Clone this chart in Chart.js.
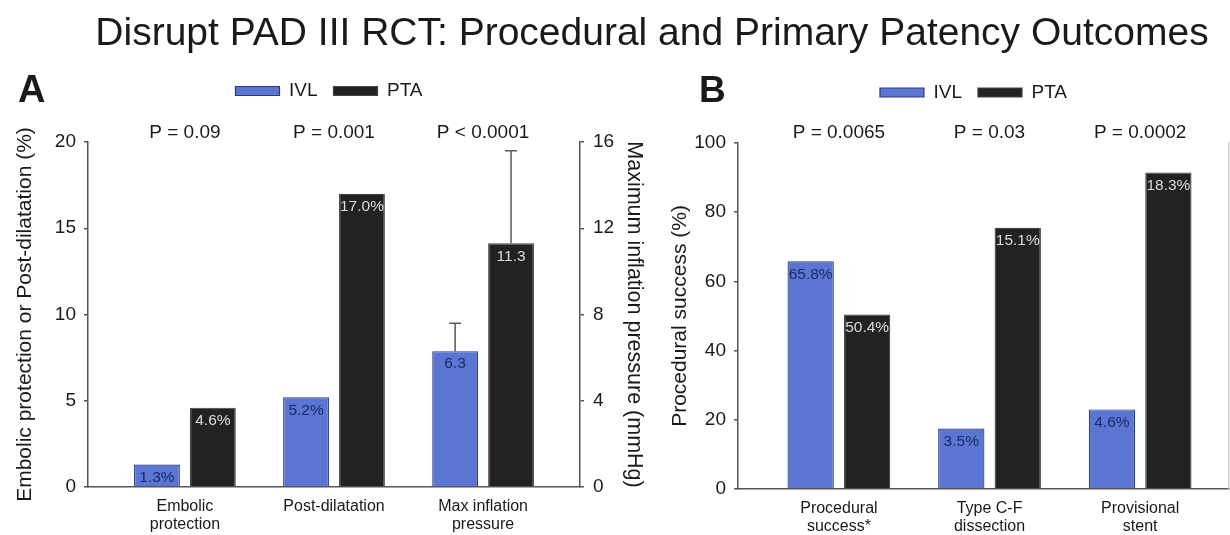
<!DOCTYPE html>
<html>
<head>
<meta charset="utf-8">
<title>Disrupt PAD III RCT</title>
<script src="https://cdn.jsdelivr.net/npm/chart.js@4.4.1/dist/chart.umd.min.js"></script>
<style>
    body { margin: 0; background: #fff; width: 1230px; height: 535px; overflow: hidden; position: relative;
        font-family: "Liberation Sans", Arial, sans-serif; color: #1a1a1a; }
    .heading { position: absolute; left: 37px; top: 13px; width: 1230px; text-align: center;
        font-size: 39px; line-height: 38px; z-index: 2; }
    .letter { position: absolute; font-weight: bold; line-height: 38px; z-index: 2; }
    canvas { position: absolute; top: 0; }
</style>
</head>
<body>
<div class="heading">Disrupt PAD III RCT: Procedural and Primary Patency Outcomes</div>
<div class="letter" style="left:18px; top:70px; font-size:38px;">A</div>
<div class="letter" style="left:699px; top:71px; font-size:37px;">B</div>
<canvas id="panelA" width="650" height="535" style="left:0"></canvas>
<canvas id="panelB" width="580" height="535" style="left:650px"></canvas>
<script>
var seriesNames = ['IVL', 'PTA'];

// panel A
var catsA = [['Embolic', 'protection'], 'Post-dilatation', ['Max inflation', 'pressure']];
var ivlPctA = [1.3, 5.2, null];
var ptaPctA = [4.6, 17.0, null];
var ivlPressA = [null, null, 6.3];
var ptaPressA = [null, null, 11.3];
var ivlPressTopA = [null, null, 7.6];
var ptaPressTopA = [null, null, 15.6];
var pValsA = ['P = 0.09', 'P = 0.001', 'P < 0.0001'];
var pctTicksA = [0, 5, 10, 15, 20];
var pressTicksA = [0, 4, 8, 12, 16];

// panel B
var catsB = [['Procedural', 'success*'], ['Type C-F', 'dissection'], ['Provisional', 'stent']];
var ivlSuccessB = [65.8, null, null];
var ptaSuccessB = [50.4, null, null];
var ivlEventB = [null, 3.5, 4.6];
var ptaEventB = [null, 15.1, 18.3];
var pValsB = ['P = 0.0065', 'P = 0.03', 'P = 0.0002'];
var successTicksB = [0, 20, 40, 60, 80, 100];

var FONT = '"Liberation Sans", Arial, sans-serif';
var IVL_FILL = '#5a76d2', IVL_EDGE = '#2b3a80', IVL_TEXT = '#1b2a66';
var PTA_FILL = '#222222', PTA_EDGE = '#444444', PTA_TEXT = '#dcdcdc';
var AXIS = '#555555';

Chart.defaults.font.family = FONT;
Chart.defaults.color = '#1a1a1a';

var barLabels = {
    id: 'barLabels',
    afterDatasetsDraw: function(chart) {
        var ctx = chart.ctx;
        ctx.save();
        ctx.font = '15.5px ' + FONT;
        ctx.textAlign = 'center';
        ctx.textBaseline = 'middle';
        chart.data.datasets.forEach(function(ds, i) {
            chart.getDatasetMeta(i).data.forEach(function(bar, j) {
                var v = ds.data[j];
                if (v === null) return;
                ctx.fillStyle = ds.labelColor;
                ctx.fillText(v.toFixed(1) + ds.labelSuffix, bar.x, bar.y + 13);
            });
        });
        ctx.restore();
    }
};

var errorBars = {
    id: 'errorBars',
    afterDatasetsDraw: function(chart) {
        var ctx = chart.ctx;
        ctx.save();
        ctx.strokeStyle = '#5a5a5a';
        ctx.lineWidth = 1.5;
        chart.data.datasets.forEach(function(ds, i) {
            if (!ds.errorTop) return;
            var scale = chart.scales[ds.yAxisID];
            chart.getDatasetMeta(i).data.forEach(function(bar, j) {
                var top = ds.errorTop[j];
                if (top === null) return;
                var y = scale.getPixelForValue(top);
                ctx.beginPath();
                ctx.moveTo(bar.x, bar.y);
                ctx.lineTo(bar.x, y);
                ctx.moveTo(bar.x - 6, y);
                ctx.lineTo(bar.x + 6, y);
                ctx.stroke();
            });
        });
        ctx.restore();
    }
};

var pLabels = {
    id: 'pLabels',
    afterDraw: function(chart, args, opts) {
        var ctx = chart.ctx, x = chart.scales.x;
        ctx.save();
        ctx.font = '19px ' + FONT;
        ctx.fillStyle = '#1a1a1a';
        ctx.textAlign = 'center';
        ctx.textBaseline = 'middle';
        opts.labels.forEach(function(t, i) {
            ctx.fillText(t, x.getPixelForValue(i), chart.chartArea.top + opts.offset);
        });
        ctx.restore();
    }
};

// room between legend and plot for the P values, and a small sideways nudge
function legendGap(extra, dx) {
    return {
        id: 'legendGap',
        beforeInit: function(chart) {
            var fit = chart.legend.fit;
            chart.legend.fit = function() {
                fit.bind(chart.legend)();
                this.height += extra;
            };
        },
        afterLayout: function(chart) {
            chart.legend.left += dx;
            chart.legend.right += dx;
        }
    };
}

function setTicks(list) {
    return function(scale) {
        scale.ticks = list.map(function(v) { return { value: v }; });
    };
}

function bars(label, data, axis, fill, edge, textColor, suffix, errTop) {
    return {
        label: label,
        data: data,
        yAxisID: axis,
        backgroundColor: fill,
        borderColor: edge,
        borderWidth: 1.2,
        skipNull: true,
        categoryPercentage: 0.75,
        barPercentage: 0.82,
        labelColor: textColor,
        labelSuffix: suffix,
        errorTop: errTop
    };
}

function yAxis(pos, min, max, ticks, width, pad, title, titleSize, titlePad) {
    return {
        position: pos, min: min, max: max,
        afterBuildTicks: setTicks(ticks),
        afterFit: function(s) { s.width = width; },
        ticks: { padding: pad, color: '#1a1a1a', font: { size: 19 } },
        grid: { drawOnChartArea: false, drawTicks: true, tickLength: 4, color: AXIS, lineWidth: 1.5 },
        border: { color: AXIS, width: 1.5 },
        title: { display: true, text: title, color: '#1a1a1a', font: { size: titleSize }, padding: { top: titlePad, bottom: 0 } }
    };
}

function xAxis(cats, min, max, height) {
    return {
        type: 'linear', min: min, max: max, offset: false,
        afterBuildTicks: setTicks(cats.map(function(c, i) { return i; })),
        afterFit: function(s) { s.height = height; },
        ticks: {
            padding: 2, maxRotation: 0, autoSkip: false, color: '#1a1a1a',
            font: { size: 16, lineHeight: 1.15 },
            callback: function(v) { return cats[v]; }
        },
        grid: { display: false, offset: false },
        border: { color: AXIS, width: 1.5 }
    };
}

function legendOpts() {
    return {
        display: true, position: 'top', fullSize: false,
        labels: {
            boxWidth: 44, boxHeight: 9, padding: 16, color: '#1a1a1a', font: { size: 19 },
            filter: function(item) { return item.datasetIndex < 2; }
        }
    };
}

new Chart(document.getElementById('panelA').getContext('2d'), {
    type: 'bar',
    data: {
        labels: catsA.map(function(c, i) { return i; }),
        datasets: [
            bars(seriesNames[0], ivlPctA, 'y', IVL_FILL, IVL_EDGE, IVL_TEXT, '%'),
            bars(seriesNames[1], ptaPctA, 'y', PTA_FILL, PTA_EDGE, PTA_TEXT, '%'),
            bars(seriesNames[0] + ' (mmHg)', ivlPressA, 'y1', IVL_FILL, IVL_EDGE, IVL_TEXT, '', ivlPressTopA),
            bars(seriesNames[1] + ' (mmHg)', ptaPressA, 'y1', PTA_FILL, PTA_EDGE, PTA_TEXT, '', ptaPressTopA)
        ]
    },
    options: {
        responsive: false,
        animation: false,
        events: [],
        layout: { padding: { top: 65.5, left: 0, right: 0, bottom: 0 } },
        scales: {
            x: xAxis(catsA, -0.65, 2.65, 48),
            y: yAxis('left', 0, 20, pctTicksA, 88, 8, 'Embolic protection or Post-dilatation (%)', 21, 13),
            y1: yAxis('right', 0, 16, pressTicksA, 70, 9, 'Maximum inflation pressure (mmHg)', 21.5, 3)
        },
        plugins: {
            legend: legendOpts(),
            tooltip: { enabled: false },
            pLabels: { labels: pValsA, offset: -9.5 }
        }
    },
    plugins: [legendGap(31.5, -5), barLabels, errorBars, pLabels]
});

var eventAxis = yAxis('right', 0, 20, [0, 20], 1, 0, '', 1, 0);
eventAxis.ticks.display = false;
eventAxis.title.display = false;
eventAxis.grid.drawTicks = false;
eventAxis.border.color = '#d4d4d4';

new Chart(document.getElementById('panelB').getContext('2d'), {
    type: 'bar',
    data: {
        labels: catsB.map(function(c, i) { return i; }),
        datasets: [
            bars(seriesNames[0], ivlSuccessB, 'y', IVL_FILL, IVL_EDGE, IVL_TEXT, '%'),
            bars(seriesNames[1], ptaSuccessB, 'y', PTA_FILL, PTA_EDGE, PTA_TEXT, '%'),
            bars(seriesNames[0] + ' events', ivlEventB, 'y2', IVL_FILL, IVL_EDGE, IVL_TEXT, '%'),
            bars(seriesNames[1] + ' events', ptaEventB, 'y2', PTA_FILL, PTA_EDGE, PTA_TEXT, '%')
        ]
    },
    options: {
        responsive: false,
        animation: false,
        events: [],
        layout: { padding: { top: 67, left: 0, right: 0, bottom: 0 } },
        scales: {
            x: xAxis(catsB, -0.67, 2.59, 46),
            y: yAxis('left', 0, 100, successTicksB, 88, 8, 'Procedural success (%)', 21, 18),
            y2: eventAxis
        },
        plugins: {
            legend: legendOpts(),
            tooltip: { enabled: false },
            pLabels: { labels: pValsB, offset: -10 }
        }
    },
    plugins: [legendGap(31, -10), barLabels, pLabels]
});
</script>
</body>
</html>
